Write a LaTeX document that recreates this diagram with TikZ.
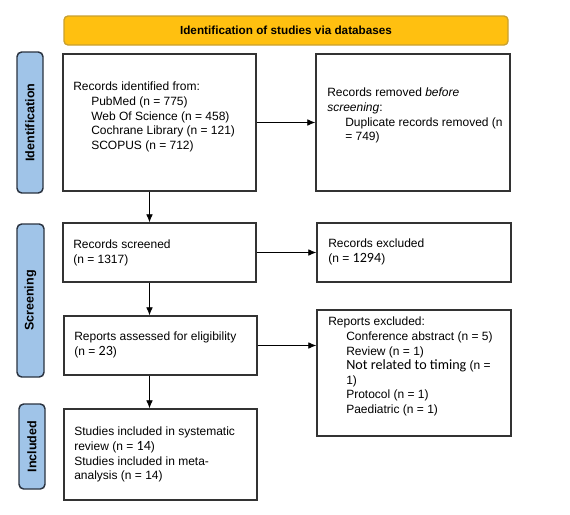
\documentclass[tikz,border=0pt]{standalone}
\usepackage{fontspec}
\setmainfont{Liberation Sans}
\newfontfamily\calib{Carlito}
\usetikzlibrary{arrows.meta,fit}
\definecolor{gold}{HTML}{FFC010}
\definecolor{goldedge}{HTML}{C8A030}
\definecolor{sideblue}{HTML}{A0C4E8}
\definecolor{sideedge}{HTML}{2A3340}
\definecolor{boxedge}{HTML}{333333}
\newcommand{\ind}{\hspace*{13.5pt}}
\newcommand{\cn}[1]{{\calib\fontsize{10.6}{10.9}\selectfont #1}}
\begin{document}
\begin{tikzpicture}[x=0.75pt,y=-0.75pt,
  box/.style={draw=boxedge,line width=1.1pt,inner sep=0pt},
  side/.style={draw=sideedge,fill=sideblue,line width=1.1pt,inner sep=0pt,rounded corners=3.5pt},
  sidetxt/.style={rotate=90,font=\fontsize{9.4}{11}\selectfont\bfseries,inner sep=0pt},
  txt/.style={anchor=north west,align=left,inner sep=0pt,font=\fontsize{9}{10.9}\selectfont},
  arr/.style={draw=black,line width=0.6pt,-{Latex[length=6pt,width=5pt]}}]
\useasboundingbox (0,0) rectangle (570,514);
% banner
\node[draw=goldedge,fill=gold,line width=1pt,inner sep=0pt,rounded corners=3pt,
      fit={(64,16)(508,45)}] (ban) {};
\node[font=\fontsize{8.8}{10}\selectfont\bfseries,inner sep=0pt] (bant) at (ban.center) {Identification of studies via databases};
% sidebars
\node[side,fit={(17,52)(43,193)}] (s1) {};
\node[sidetxt] (s1t) at (s1.center) {Identification};
\node[side,fit={(17,224)(44,377)}] (s2) {};
\node[sidetxt] (s2t) at (s2.center) {Screening};
\node[side,fit={(19,404)(45,489)}] (s3) {};
\node[sidetxt] (s3t) at (s3.center) {Included};
% boxes
\node[box,fit={(63,54)(256,191)}] (b1) {};
\node[box,fit={(316,54)(510,191)}] (b2) {};
\node[box,fit={(63,223)(256,282)}] (b3) {};
\node[box,fit={(317,223)(511,282)}] (b4) {};
\node[box,fit={(64,316)(257,375)}] (b5) {};
\node[box,fit={(317,310)(511,436)}] (b6) {};
\node[box,fit={(64,409)(257,500)}] (b7) {};
% texts
\node[txt] (t1) at (73,82) {Records identified from:\\
  \ind PubMed (n = 775)\\
  \ind Web Of Science (n = 458)\\
  \ind Cochrane Library (n = 121)\\
  \ind SCOPUS (n = 712)};
\node[txt] (t2) at (327,88) {Records removed \textit{before}\\
  \textit{screening}:\\
  \ind Duplicate records removed (n\\
  \ind = 749)};
\node[txt] (t3) at (73,240) {Records screened\\ (n = 1317)};
\node[txt] (t4) at (328,239) {Records excluded\\ (n = \cn{1294})};
\node[txt] (t5) at (74,332) {Reports assessed for eligibility\\ (n = \cn{23})};
\node[txt] (t6) at (328,317) {Reports excluded:\\
  \ind Conference abstract (n = 5)\\
  \ind Review (n = 1)\\
  \ind \cn{Not related to timing} (n =\\
  \ind 1)\\
  \ind Protocol (n = 1)\\
  \ind Paediatric (n = 1)};
\node[txt] (t7) at (74,427) {Studies included in systematic\\
  review (n = \cn{14})\\
  Studies included in meta-\\
  analysis (n = 14)};
% arrows
\coordinate (vx) at (149.5,0);
\draw[arr] (b1.east) -- (b2.west);
\draw[arr] (b3.east) -- (b4.west);
\draw[arr] (b5.east) -- (b5.east -| b6.west);
\draw[arr] (b1.south -| vx) -- (b3.north -| vx);
\draw[arr] (b3.south -| vx) -- (b5.north -| vx);
\draw[arr] (b5.south -| vx) -- (b7.north -| vx);
\end{tikzpicture}
\end{document}
